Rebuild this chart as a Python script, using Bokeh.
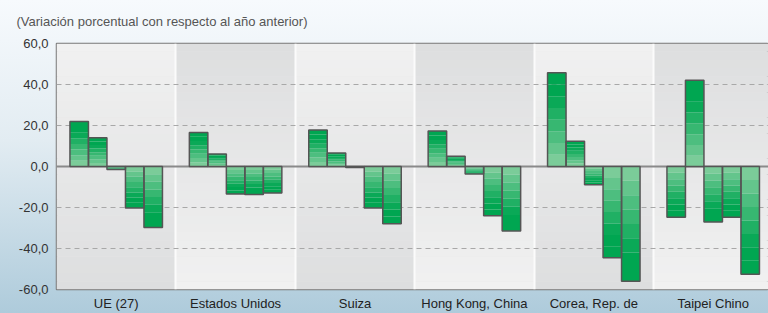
import numpy as np
from bokeh.plotting import figure
from bokeh.models import FixedTicker, Range1d
from bokeh.embed import file_html
from bokeh.resources import INLINE

# ---- data ----
categories = ["UE (27)", "Estados Unidos", "Suiza", "Hong Kong, China", "Corea, Rep. de", "Taipei Chino"]
bar1 = [22.0, 16.6, 17.8, 17.3, 45.7, -24.7]
bar2 = [14.0, 6.1, 6.6, 5.0, 12.3, 42.1]
bar3 = [-1.5, -13.4, -0.5, -3.7, -8.9, -27.1]
bar4 = [-20.2, -13.7, -20.2, -24.0, -44.5, -24.7]
bar5 = [-29.8, -12.9, -27.9, -31.5, -56.0, -52.6]
series = [bar1, bar2, bar3, bar4, bar5]
y_ticks = [-60, -40, -20, 0, 20, 40, 60]
y_tick_labels = ["-60,0", "-40,0", "-20,0", "0,0", "20,0", "40,0", "60,0"]
grid_values = [-40, -20, 20, 40]
subtitle = "(Variación porcentual con respecto al año anterior)"

# ---- layout constants ----
GROUP_PX = 119.4
FRAME_W = 712
BW = 18.5 / GROUP_PX
FONT = "Liberation Sans"
FS = "13px"

p = figure(width=768, height=313, output_backend="svg", toolbar_location=None,
           x_range=Range1d(0, FRAME_W / GROUP_PX), y_range=Range1d(-60, 60),
           min_border_left=56, min_border_right=0, min_border_top=43, min_border_bottom=23)
p.styles = {"background": "linear-gradient(to bottom, #f7fafd 0%, #e2ecf2 45%, #aecbdb 100%)"}
p.border_fill_alpha = 0
p.background_fill_color = "#e8e8e8"
p.outline_line_color = "#777777"
p.outline_line_width = 1.5
p.xgrid.visible = False
p.ygrid.visible = False

# title
p.title.text = subtitle
p.title.text_font = FONT
p.title.text_font_size = FS
p.title.text_font_style = "normal"
p.title.text_color = "#555555"
p.title.align = "left"
p.title.vertical_align = "top"
p.title.offset = -40
p.title.standoff = 25

# group backgrounds (vertical gradient bands, alternating direction)
NB = 30
light_bg = np.array([0xf1, 0xf1, 0xf1])
dark_bg = np.array([0xdd, 0xde, 0xdf])
bl, br, bb, bt, bc = [], [], [], [], []
for g in range(len(categories)):
    for k in range(NB):
        y0 = -60 + 120 * k / NB
        y1 = -60 + 120 * (k + 1) / NB
        t = (k + 0.5) / NB  # 0 bottom -> 1 top
        if g % 2 == 0:
            c = dark_bg + (light_bg - dark_bg) * t
        else:
            c = light_bg + (dark_bg - light_bg) * t
        bl.append(g); br.append(g + 1); bb.append(y0); bt.append(y1)
        bc.append("#%02x%02x%02x" % tuple(int(round(v)) for v in c))
p.quad(left=bl, right=br, bottom=bb, top=bt, fill_color=bc, line_color=None)

# group separators
p.vspan(x=list(range(1, len(categories))), line_color="#fbfbfb", line_width=2)

# gridlines
p.hspan(y=grid_values, line_color="#a8a8a8", line_width=1, line_dash="5 4")
p.hspan(y=[0], line_color="#8a8a8a", line_width=2)

# bars with banded gradient
N = 8
light = np.array([0x86, 0xd0, 0xa0])
dark = np.array([0x00, 0xa6, 0x51])
ql, qr, qb, qt, qc = [], [], [], [], []
ol, orr, ob, ot = [], [], [], []
for i, s in enumerate(series):
    for g, v in enumerate(s):
        xc = g + 0.5 + (i - 2) * BW
        left, right = xc - BW / 2, xc + BW / 2
        for k in range(N):
            y0 = v * k / N
            y1 = v * (k + 1) / N
            t = min(1.0, ((k + 0.5) / N) * 1.35)
            c = light + (dark - light) * t
            ql.append(left); qr.append(right)
            qb.append(min(y0, y1)); qt.append(max(y0, y1))
            qc.append("#%02x%02x%02x" % tuple(int(round(x)) for x in c))
        ol.append(left); orr.append(right); ob.append(min(0, v)); ot.append(max(0, v))
p.quad(left=ql, right=qr, bottom=qb, top=qt, fill_color=qc, line_color=None)
p.quad(left=ol, right=orr, bottom=ob, top=ot, fill_color=None, line_color="#555555", line_width=1.5)

# axes
p.yaxis.ticker = FixedTicker(ticks=y_ticks)
p.yaxis.major_label_overrides = {t: l for t, l in zip(y_ticks, y_tick_labels)}
p.yaxis.axis_line_color = None
p.yaxis.major_tick_line_color = None
p.yaxis.minor_tick_line_color = None
p.yaxis.major_tick_out = 0
p.yaxis.major_tick_in = 0
p.yaxis.minor_tick_out = 0
p.yaxis.major_label_standoff = 8
p.yaxis.major_label_text_font = FONT
p.yaxis.major_label_text_font_size = FS
p.yaxis.major_label_text_color = "#333333"

centers = [g + 0.5 for g in range(len(categories))]
p.xaxis.ticker = FixedTicker(ticks=centers)
p.xaxis.major_label_overrides = {c: l for c, l in zip(centers, categories)}
p.xaxis.axis_line_color = None
p.xaxis.major_tick_line_color = None
p.xaxis.minor_tick_line_color = None
p.xaxis.major_tick_out = 0
p.xaxis.major_tick_in = 0
p.xaxis.minor_tick_out = 0
p.xaxis.major_label_standoff = 6
p.xaxis.major_label_text_font = FONT
p.xaxis.major_label_text_font_size = FS
p.xaxis.major_label_text_color = "#222222"

open("out.html", "w").write(file_html(p, INLINE))
